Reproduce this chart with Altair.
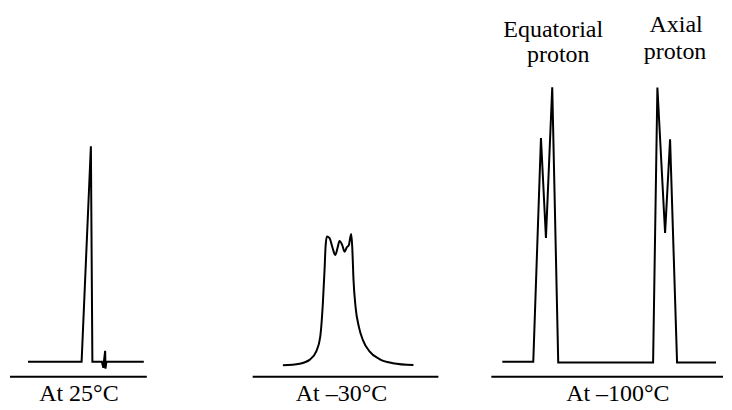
import altair as alt
import pandas as pd

FONT = "Liberation Serif"
FS = 24
YMIN, YMAX = -14.545, 128.73   # intensity units (0 = spectrum baseline, 100 = tallest peak)
H = 394
WIDTHS = [192, 266, 258]

# ---- Panel 1: At 25 °C (single sharp averaged peak) ----
p1_x = [20, 73.7, 83, 84.5, 94, 95.5, 96, 97.3, 97.6, 98.5, 136]
p1_i = [0, 0, 78.5, 0, 0, -2.2, 0, 4.0, -2.5, 0, 0]

# ---- Panel 2: At -30 °C (broadened coalescing peak) ----
p2_x = [83.3, 100, 110, 116.7, 120.7, 123.3, 125, 126, 127.3, 130, 132.7, 135.7,
        138.3, 140, 142.7, 145, 147.3, 149.3, 151.7, 152.7, 154, 156, 159.3,
        163.3, 170, 180, 193.3, 214]
p2_i = [-1.3, -0.7, 0.7, 3.8, 9.2, 21.3, 33.5, 41.9, 45.6, 45.0, 41.9, 38.9,
        41.9, 44.0, 42.5, 40.1, 41.7, 42.5, 46.5, 41.9, 29.8, 20.1, 12.8,
        8.0, 3.8, 1.0, -0.5, -1.2]

# ---- Panel 3: At -100 °C (equatorial and axial doublets) ----
p3_x = [37, 68, 75.7, 80.7, 87, 93, 188, 192.3, 200, 205, 212, 251]
p3_i = [0, 0, 81.5, 45.1, 100, -0.3, -0.3, 99.9, 46.9, 81, -0.3, -0.3]

# axis rules (x start, x end) and level
rule_x0 = [2, 53, 26]
rule_x1 = [139, 239, 258]
rule_y = -5.45

# bottom captions
captions = ["At 25°C", "At –30°C", "At –100°C"]
caption_x = [71, 142, 152.7]
caption_y = -14.2

# peak labels (panel 3)
peak_text = ["Equatorial", "proton", "Axial", "proton"]
peak_x = [88, 93, 211, 210]
peak_y = [118.3, 109.2, 120.1, 110.4]

spectra = [(p1_x, p1_i), (p2_x, p2_i), (p3_x, p3_i)]
interp = ["linear", "monotone", "linear"]


def panel(k):
    w = WIDTHS[k]
    xs = alt.Scale(domain=[0, w], nice=False, zero=False)
    ys = alt.Scale(domain=[YMIN, YMAX], nice=False, zero=False)
    sx, si = spectra[k]
    df = pd.DataFrame({"x": sx, "i": si, "o": list(range(len(sx)))})
    line = alt.Chart(df).mark_line(color="black", strokeWidth=2, strokeJoin="miter",
                                   interpolate=interp[k]).encode(
        x=alt.X("x:Q", scale=xs, axis=None),
        y=alt.Y("i:Q", scale=ys, axis=None),
        order="o:Q",
    )
    rdf = pd.DataFrame({"x0": [rule_x0[k]], "x1": [rule_x1[k]], "y": [rule_y]})
    rule = alt.Chart(rdf).mark_rule(color="black", strokeWidth=2).encode(
        x=alt.X("x0:Q", scale=xs, axis=None),
        x2="x1:Q",
        y=alt.Y("y:Q", scale=ys, axis=None),
    )
    cdf = pd.DataFrame({"x": [caption_x[k]], "y": [caption_y], "t": [captions[k]]})
    cap = alt.Chart(cdf).mark_text(font=FONT, fontSize=FS, color="black",
                                   align="center", baseline="alphabetic").encode(
        x=alt.X("x:Q", scale=xs, axis=None),
        y=alt.Y("y:Q", scale=ys, axis=None),
        text="t:N",
    )
    layers = [line, rule, cap]
    if k == 2:
        ldf = pd.DataFrame({"x": peak_x, "y": peak_y, "t": peak_text})
        lab = alt.Chart(ldf).mark_text(font=FONT, fontSize=FS, color="black",
                                       align="center", baseline="alphabetic").encode(
            x=alt.X("x:Q", scale=xs, axis=None),
            y=alt.Y("y:Q", scale=ys, axis=None),
            text="t:N",
        )
        layers.append(lab)
    return alt.layer(*layers).properties(width=w, height=H)


chart = alt.hconcat(panel(0), panel(1), panel(2), spacing=0).properties(
    padding=0, background="white"
).configure_view(strokeWidth=0)

chart.save("out.html", embed_options={"renderer": "svg", "actions": False})
